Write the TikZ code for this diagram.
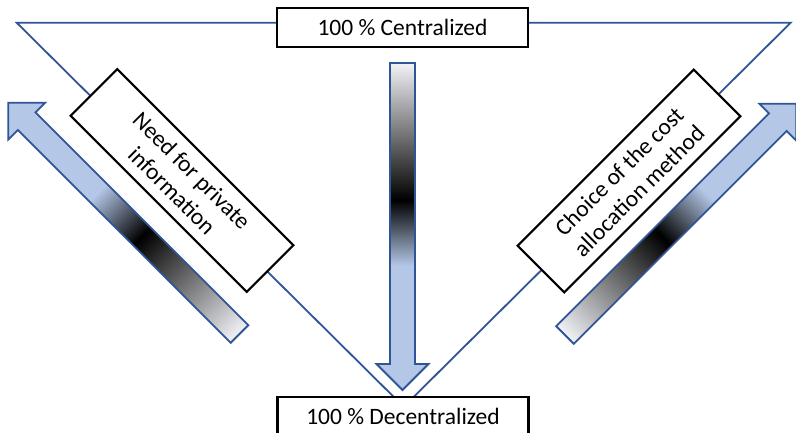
\documentclass[tikz,border=0pt]{standalone}
\usepackage{fontspec}
\setmainfont{Carlito}
\usetikzlibrary{positioning}
\definecolor{edgeblue}{RGB}{47,85,151}
\definecolor{fillblue}{RGB}{180,199,231}
\definecolor{fadewhite}{RGB}{242,243,247}
\pgfdeclareverticalshading{tailfade}{100bp}{color(0bp)=(fillblue); color(44bp)=(fillblue); color(54bp)=(black); color(75bp)=(fadewhite); color(100bp)=(fadewhite)}
\pgfdeclareverticalshading{tiltfade}{100bp}{color(0bp)=(fillblue); color(41bp)=(fillblue); color(54bp)=(black); color(83bp)=(fadewhite); color(100bp)=(fadewhite)}

\begin{document}
\begin{tikzpicture}[x=1pt, y=-1pt, font=\fontsize{23.5}{28}\selectfont,
  edgeline/.style={draw=edgeblue, line width=1.8pt},
  fadearrow/.style={draw=edgeblue, line width=1.8pt},
  labelbox/.style={draw=black, line width=2.2pt, fill=white, inner sep=0pt, minimum width=251pt, minimum height=38.5pt},
  tiltbox/.style={labelbox, align=center, minimum width=249pt, minimum height=66pt}]
  \useasboundingbox (0,0) rectangle (796,433);

  % triangle
  \coordinate (apexL) at (16.7,22.7);
  \coordinate (apexR) at (790.7,22.7);
  \coordinate (apexB) at (403.7,406.8);
  \draw[edgeline] (apexL) -- (apexR) -- (apexB) -- cycle;

  % shaded arrows
  \foreach \tx/\ty/\ang/\shd in {402.5/63/0/tailfade, 239.5/334/225/tiltfade, 565/335/135/tiltfade}
    \shadedraw[fadearrow, shading=\shd, shift={(\tx,\ty)}, rotate=\ang, shading angle=\ang]
      (-12.5,0) -- (12.5,0) -- (12.5,301) -- (26,301) -- (0,327) -- (-26,301) -- (-12.5,301) -- cycle;

  % boxes
  \node[labelbox] (central) at (402.5,27.5) {100 \% Centralized};
  \node[labelbox] (decentral) at (403,416.5) {100 \% Decentralized};
  \node[tiltbox, rotate=-45] (privinfo) at (182,180.5) {Need for private\\information};
  \node[tiltbox, rotate=45] (costalloc) at (629,181) {Choice of the cost\\allocation method};
\end{tikzpicture}
\end{document}
